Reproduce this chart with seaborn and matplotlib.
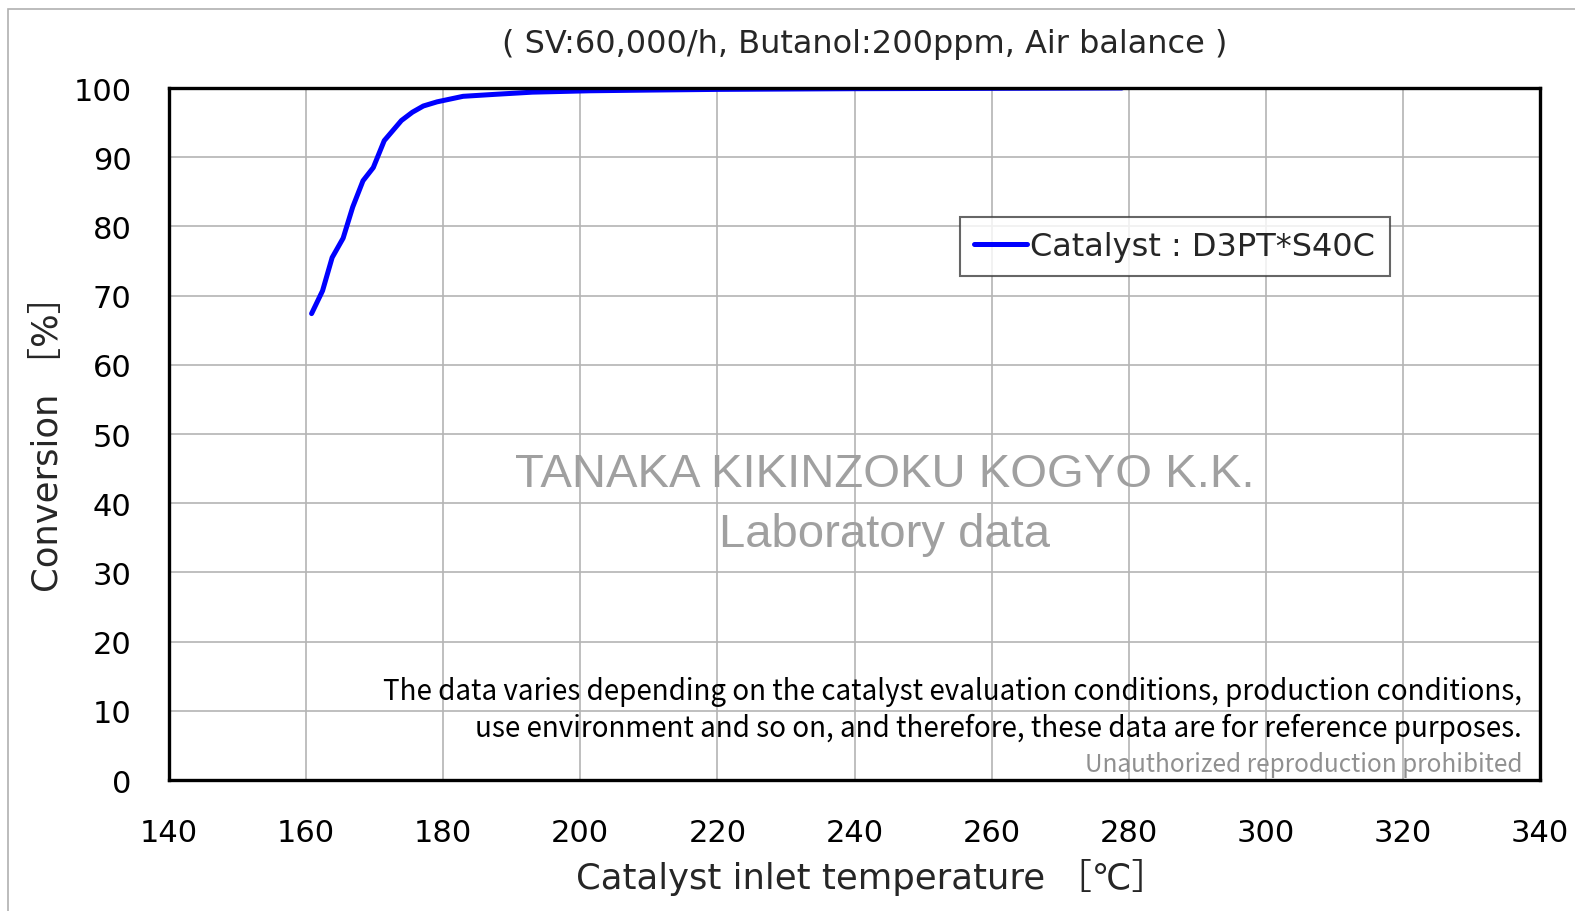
import pandas as pd
import seaborn as sns
import matplotlib.pyplot as plt
from matplotlib.patches import Rectangle

# values
temperature = [160.8, 162.4, 163.8, 165.4, 166.8, 168.3, 169.8, 171.4, 173.9,
               175.5, 177.1, 179.1, 182.9, 187.8, 193.0, 201.4, 210.0, 220.0,
               240.0, 260.0, 279.0]
conversion = [67.4, 70.7, 75.5, 78.3, 82.8, 86.6, 88.5, 92.4, 95.3,
              96.5, 97.4, 98.0, 98.8, 99.1, 99.4, 99.6, 99.7, 99.8,
              99.9, 99.95, 100.0]
x_ticks = [140, 160, 180, 200, 220, 240, 260, 280, 300, 320, 340]
y_ticks = [0, 10, 20, 30, 40, 50, 60, 70, 80, 90, 100]

df = pd.DataFrame({'temp': temperature, 'conv': conversion,
                   'name': 'Catalyst : D3PT*S40C'})

sns.set_style('white')
plt.rcParams['font.family'] = ['DejaVu Sans', 'Noto Sans CJK JP']

fig = plt.figure(figsize=(15.75, 9.12), dpi=100)
ax = fig.add_axes([0.1073, 0.1436, 0.8705, 0.7588])

sns.lineplot(data=df, x='temp', y='conv', hue='name', palette=['#0000ff'],
             linewidth=3.6, ax=ax, sort=False)

ax.set_xlim(140, 340)
ax.set_ylim(0, 100)
ax.set_xticks(x_ticks)
ax.set_yticks(y_ticks)
ax.grid(True, color='#b4b4b4', linewidth=1.2)
ax.tick_params(axis='both', labelsize=22, length=0, colors='black')
ax.tick_params(axis='x', pad=27)
ax.tick_params(axis='y', pad=27)
for s in ax.spines.values():
    s.set_color('black')
    s.set_linewidth(2.4)

ax.set_xlabel('Catalyst inlet temperature ［℃］', fontsize=25.5, labelpad=8)
ax.xaxis.label.set_x(0.512)
ax.set_ylabel('Conversion ［%］', fontsize=25.5, labelpad=6)

leg = ax.legend(loc='upper left', bbox_to_anchor=(0.577, 0.814), fontsize=23,
                frameon=True, fancybox=False, edgecolor='#404040',
                handlelength=1.65, handletextpad=0.1, borderpad=0.45,
                borderaxespad=0)
leg.get_frame().set_linewidth(1.5)

fig.text(0.549, 0.951, '( SV:60,000/h, Butanol:200ppm, Air balance )',
         ha='center', va='center', fontsize=23)

ax.text(0.522, 0.442, 'TANAKA KIKINZOKU KOGYO K.K.', transform=ax.transAxes,
        ha='center', va='center', fontsize=34, color='#a0a0a0',
        family=['Liberation Sans Narrow', 'Liberation Sans'])
ax.text(0.522, 0.355, 'Laboratory data', transform=ax.transAxes,
        ha='center', va='center', fontsize=34, color='#a0a0a0',
        family=['Liberation Sans Narrow', 'Liberation Sans'])

note_font = ['Noto Sans CJK JP', 'DejaVu Sans']
ax.text(0.987, 0.129, 'The data varies depending on the catalyst evaluation conditions, production conditions,',
        transform=ax.transAxes, ha='right', va='center', fontsize=20, color='black',
        family=note_font)
ax.text(0.987, 0.075, 'use environment and so on, and therefore, these data are for reference purposes.',
        transform=ax.transAxes, ha='right', va='center', fontsize=20, color='black',
        family=note_font)
ax.text(0.987, 0.023, 'Unauthorized reproduction prohibited',
        transform=ax.transAxes, ha='right', va='center', fontsize=17.5, color='#909090',
        family=note_font)

fig.patches.append(Rectangle((0.005, -0.01), 1.0, 0.999, transform=fig.transFigure,
                             fill=False, edgecolor='#b0b0b0', linewidth=1.2))

fig.savefig('out.png', dpi=100)
